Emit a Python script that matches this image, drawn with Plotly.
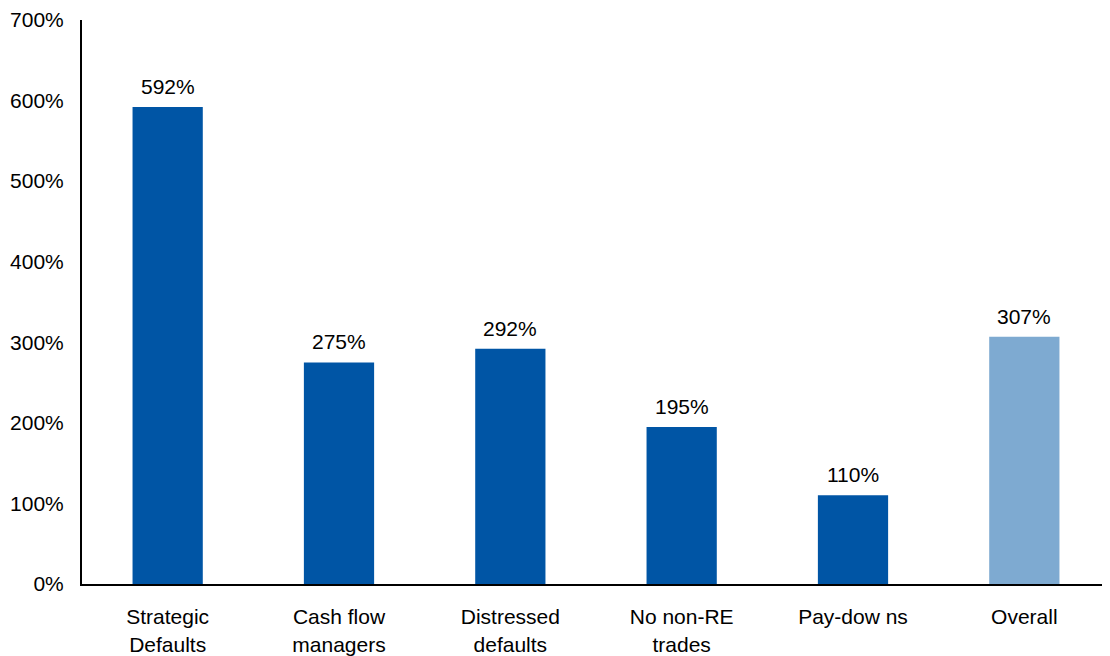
import plotly.graph_objects as go

categories = ["Strategic<br>Defaults", "Cash flow<br>managers", "Distressed<br>defaults",
              "No non-RE<br>trades", "Pay-dow ns", "Overall"]
values = [592, 275, 292, 195, 110, 307]
labels = [f"{v}%" for v in values]
colors = ["#0055A5"] * 5 + ["#7EAAD1"]
tick_vals = [0, 100, 200, 300, 400, 500, 600, 700]
tick_text = [f"{v}%" for v in tick_vals]

FONT = "Liberation Sans, Arial"

fig = go.Figure(go.Bar(
    x=categories, y=values,
    marker=dict(color=colors, line=dict(width=0)),
    width=0.41, cliponaxis=False,
))
for c, v, t in zip(categories, values, labels):
    fig.add_annotation(x=c, y=v, text=t, showarrow=False, yanchor="bottom",
                       yshift=7, font=dict(family=FONT, size=21, color="#000000"))
fig.update_layout(
    width=1102, height=648,
    margin=dict(l=74, r=0, t=12, b=72, autoexpand=False),
    paper_bgcolor="white", plot_bgcolor="white",
    font=dict(family=FONT, size=21, color="#000000"),
    showlegend=False,
)
fig.update_yaxes(range=[0, 700], tickvals=tick_vals, ticktext=tick_text,
                 showgrid=False, zeroline=False, showline=True, linecolor="#000000",
                 linewidth=2, ticks="", ticklabelstandoff=12, automargin=False)
fig.update_xaxes(showgrid=False, showline=True, linecolor="#000000", linewidth=2,
                 ticks="", ticklabelstandoff=13, automargin=False)
fig.write_html("out.html")
